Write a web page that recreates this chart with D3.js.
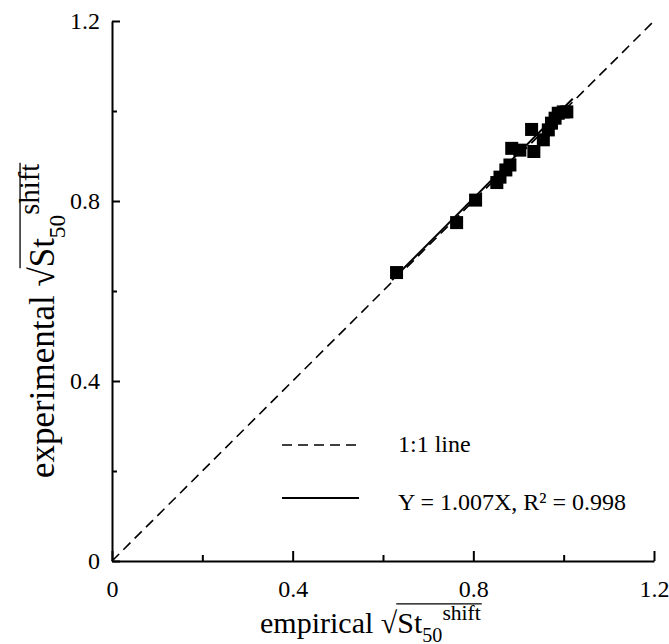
<!DOCTYPE html>
<html>
<head>
<script src="https://d3js.org/d3.v7.min.js"></script>
<style>
body { margin: 0; background: #fff; }
text { font-family: "Liberation Serif", "Times New Roman", "DejaVu Serif", serif; fill: #000; }
</style>
</head>
<body>
<svg id="chart" width="669" height="644"></svg>
<script>
// values
const empirical = [0.630, 0.763, 0.805, 0.852, 0.859, 0.872, 0.881, 0.885, 0.903, 0.934, 0.929, 0.955, 0.966, 0.973, 0.981, 0.988, 0.999, 1.007];
const experimental = [0.641, 0.752, 0.802, 0.841, 0.853, 0.869, 0.880, 0.917, 0.913, 0.910, 0.959, 0.936, 0.958, 0.973, 0.984, 0.995, 0.998, 0.998];
const majorTicks = [0, 0.4, 0.8, 1.2];
const minorTicks = [0.2, 0.6, 1.0];
const oneToOne = [0, 1.2];
const fitRange = [0.62, 1.02];
const slope = 1.007;
const legendLabels = ["1:1 line", "Y = 1.007X, R\u00b2 = 0.998"];

const svg = d3.select("#chart");
const margin = {left: 112, right: 15, top: 21, bottom: 83};
const width = 669 - margin.left - margin.right;
const height = 644 - margin.top - margin.bottom;

const x = d3.scaleLinear().domain([0, 1.2]).range([margin.left, margin.left + width]);
const y = d3.scaleLinear().domain([0, 1.2]).range([margin.top + height, margin.top]);

const fmt = d => d === 0 ? "0" : d3.format(".1f")(d);

// x axis, ticks pointing inward
const gx = svg.append("g").attr("transform", "translate(0," + y(0) + ")");
gx.call(d3.axisBottom(x).tickValues(majorTicks).tickSize(-10).tickSizeOuter(0).tickFormat(fmt).tickPadding(19));
gx.append("g").call(d3.axisBottom(x).tickValues(minorTicks).tickSize(-6).tickSizeOuter(0).tickFormat(""))
  .select(".domain").remove();

const gy = svg.append("g").attr("transform", "translate(" + x(0) + ",0)");
gy.call(d3.axisLeft(y).tickValues(majorTicks).tickSize(-8).tickSizeOuter(0).tickFormat(fmt).tickPadding(12));
gy.append("g").call(d3.axisLeft(y).tickValues(minorTicks).tickSize(-5).tickSizeOuter(0).tickFormat(""))
  .select(".domain").remove();

svg.selectAll(".domain, .tick line").attr("stroke", "#000").attr("stroke-width", 2);
svg.selectAll(".tick text").style("font-size", "24px").attr("fill", "#000");

// 1:1 dashed line
svg.append("line")
  .attr("x1", x(oneToOne[0])).attr("y1", y(oneToOne[0]))
  .attr("x2", x(oneToOne[1])).attr("y2", y(oneToOne[1]))
  .attr("stroke", "#000").attr("stroke-width", 1.6).attr("stroke-dasharray", "10,6");

// fitted line
svg.append("line")
  .attr("x1", x(fitRange[0])).attr("y1", y(slope * fitRange[0]))
  .attr("x2", x(fitRange[1])).attr("y2", y(slope * fitRange[1]))
  .attr("stroke", "#000").attr("stroke-width", 2);

// points
const sq = 13;
svg.append("g").selectAll("rect").data(empirical)
  .join("rect")
  .attr("x", (d, i) => x(d) - sq / 2)
  .attr("y", (d, i) => y(experimental[i]) - sq / 2)
  .attr("width", sq).attr("height", sq)
  .attr("fill", "#000");

// legend
const legend = svg.append("g");
legend.append("line").attr("x1", 282).attr("x2", 360).attr("y1", 445).attr("y2", 445)
  .attr("stroke", "#000").attr("stroke-width", 1.6).attr("stroke-dasharray", "10,6");
legend.append("line").attr("x1", 282).attr("x2", 359).attr("y1", 498).attr("y2", 498)
  .attr("stroke", "#000").attr("stroke-width", 2);
legend.selectAll("text").data(legendLabels).join("text")
  .attr("x", 398).attr("y", (d, i) => i === 0 ? 452 : 510)
  .style("font-size", "24px")
  .text(d => d);

// axis titles with square root sign and overline
function rootTitle(g, word, fs, supScale) {
  const t = g.append("text").attr("x", 0).attr("y", 0).style("font-size", fs + "px");
  t.append("tspan").text(word + " ");
  t.append("tspan").text("\u221a");
  t.append("tspan").text("St");
  t.append("tspan").attr("dy", 0.3 * fs).style("font-size", (0.67 * fs) + "px").text("50");
  t.append("tspan").attr("dy", -0.72 * fs).style("font-size", (supScale * fs) + "px").text("shift");
  const node = t.node();
  const n = node.getNumberOfChars();
  const rootIdx = word.length + 1;
  const x1 = node.getEndPositionOfChar(rootIdx).x - 1;
  const x2 = node.getEndPositionOfChar(n - 1).x + 1;
  g.append("line").attr("x1", x1).attr("x2", x2)
    .attr("y1", -0.97 * fs).attr("y2", -0.97 * fs)
    .attr("stroke", "#000").attr("stroke-width", 1.3);
}

rootTitle(svg.append("g").attr("transform", "translate(260,633)"), "empirical", 30, 0.72);
rootTitle(svg.append("g").attr("transform", "translate(54,478) rotate(-90)"), "experimental", 35, 0.82);
</script>
</body>
</html>
